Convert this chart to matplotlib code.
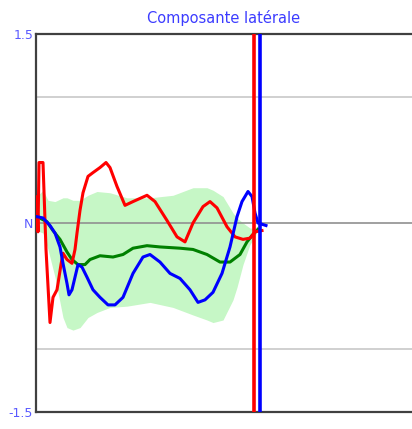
import matplotlib
matplotlib.use("Agg")
import matplotlib.pyplot as plt

# Data (x in samples, y in normalized units)
band_x = [1, 7, 12, 19, 27, 31, 37, 44, 52, 61, 74, 91, 114, 137, 157, 171, 177, 187, 197, 201, 207, 214, 219, 222]
band_upper = [0.21, 0.26, 0.18, 0.17, 0.20, 0.20, 0.18, 0.18, 0.22, 0.25, 0.24, 0.20, 0.20, 0.22, 0.28, 0.28,
              0.26, 0.21, 0.08, 0.04, 0.0, -0.04, -0.04, -0.02]
band_lower = [-0.06, -0.08, -0.21, -0.43, -0.75, -0.83, -0.85, -0.83, -0.75, -0.71, -0.67, -0.66, -0.63, -0.67,
              -0.73, -0.77, -0.79, -0.77, -0.61, -0.51, -0.33, -0.17, -0.11, -0.04]

red_x = [0, 1, 2, 3, 7, 10, 14, 17, 21, 25, 27, 31, 36, 39, 41, 44, 47, 52, 57, 64, 70, 74, 81, 89, 97, 111,
         119, 131, 141, 149, 157, 167, 174, 181, 191, 199, 207, 214, 219, 226]
red_y = [-0.04, 0.21, -0.07, 0.48, 0.48, -0.21, -0.79, -0.59, -0.53, -0.33, -0.24, -0.29, -0.32, -0.21, -0.08,
         0.10, 0.24, 0.37, 0.40, 0.44, 0.48, 0.44, 0.29, 0.14, 0.17, 0.22, 0.17, 0.02, -0.11, -0.15, 0.0, 0.13,
         0.17, 0.12, -0.03, -0.11, -0.13, -0.12, -0.07, -0.06]

blue_x = [1, 7, 14, 19, 24, 27, 31, 33, 36, 39, 42, 46, 51, 57, 64, 72, 79, 87, 97, 107, 114, 124, 134, 144,
          154, 162, 169, 177, 186, 194, 201, 206, 212, 216, 219, 222, 230]
blue_y = [0.05, 0.04, -0.02, -0.08, -0.19, -0.32, -0.48, -0.57, -0.53, -0.43, -0.33, -0.35, -0.43, -0.53, -0.59,
          -0.65, -0.65, -0.59, -0.40, -0.27, -0.25, -0.31, -0.40, -0.44, -0.53, -0.63, -0.61, -0.55, -0.40,
          -0.19, 0.05, 0.17, 0.25, 0.21, 0.08, 0.0, -0.02]

green_x = [1, 11, 17, 24, 31, 36, 42, 49, 54, 64, 77, 87, 97, 111, 124, 144, 157, 171, 184, 194, 204, 211, 216, 222]
green_y = [0.05, 0.01, -0.06, -0.13, -0.23, -0.29, -0.33, -0.33, -0.29, -0.26, -0.27, -0.25, -0.20, -0.18,
           -0.19, -0.20, -0.21, -0.25, -0.31, -0.31, -0.25, -0.15, -0.10, -0.05]

red_event = 217.5
blue_event = 223.5

ytick_vals = [-1.5, 0, 1.5]
ytick_labels = ["-1.5", "N", "1.5"]
title = "Composante latérale"

fig = plt.figure(figsize=(4.12, 4.29), dpi=100)
ax = fig.add_axes([36 / 412, 17 / 429, 1 - 36 / 412, (412 - 34) / 429])
ax.set_xlim(0, 376)
ax.set_ylim(-1.5, 1.5)

ax.fill_between(band_x, band_lower, band_upper, color="#c6f7c6", lw=0, zorder=1)
for gy in (-1, 1):
    ax.axhline(gy, color="#c8c8c8", lw=1.2, zorder=0.5)
ax.axhline(0, color="#909090", lw=1.2, zorder=2)

ax.plot(green_x, green_y, color="#008000", lw=2.2, zorder=3)
ax.plot(red_x, red_y, color="#ff0000", lw=2.2, zorder=4)
ax.plot(blue_x, blue_y, color="#0000ff", lw=2.2, zorder=5)
ax.axvline(red_event, color="#ff0000", lw=2.6, zorder=6)
ax.axvline(blue_event, color="#0000ff", lw=2.6, zorder=6)

ax.set_xticks([])
ax.set_yticks(ytick_vals)
ax.set_yticklabels(ytick_labels, color="#5a5aff", fontsize=9)
ax.tick_params(axis="y", length=0, pad=2)

for s in ("left", "top", "bottom"):
    ax.spines[s].set_color("#404040")
    ax.spines[s].set_linewidth(1.6)
ax.spines["right"].set_visible(False)

ax.set_title(title, color="#3c3cff", fontsize=10.5, pad=8)

fig.savefig("out.png", dpi=100)
